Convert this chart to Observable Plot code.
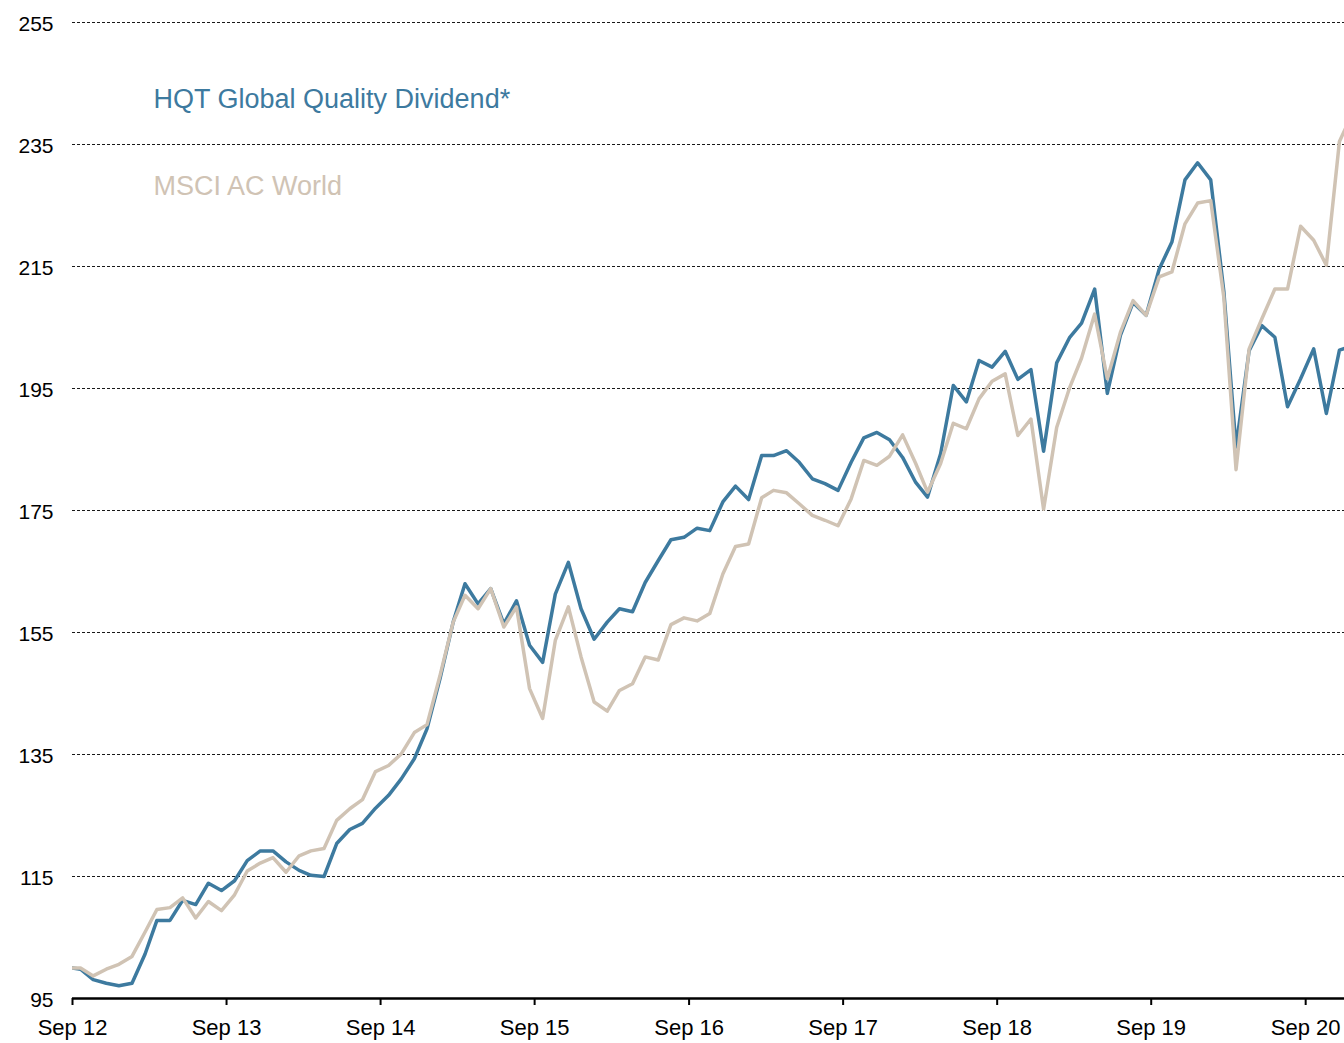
<!DOCTYPE html>
<html>
<head>
<meta charset="utf-8">
<script src="https://cdn.jsdelivr.net/npm/d3@7"></script>
<script src="https://cdn.jsdelivr.net/npm/@observablehq/plot@0.6"></script>
<style>
  html, body { margin: 0; padding: 0; background: #ffffff; }
  #chart { width: 1344px; height: 1043px; }
</style>
</head>
<body>
<div id="chart"></div>
<script>
// ---- data ----
const seriesNames = ["HQT Global Quality Dividend*", "MSCI AC World"];
const seriesColors = ["#3d7a9f", "#d0c3b4"];

const startDate = "2012-09-01";      // base point (index = 100)
const firstMonthly = "2012-09-20";   // first monthly observation
const domainEnd = "2020-12-02";

const hqt = [100.0,
  99.8, 98.1, 97.5, 97.1, 97.5, 102.3, 107.8, 107.8, 111.1, 110.4, 113.9, 112.7,
  114.3, 117.6, 119.2, 119.2, 117.4, 116.0, 115.2, 115.0, 120.4, 122.7, 123.7, 126.2,
  128.3, 131.0, 134.3, 139.2, 147.5, 156.7, 163.0, 159.7, 162.2, 156.4, 160.2, 152.9,
  150.1, 161.3, 166.5, 158.9, 153.9, 156.7, 158.9, 158.4, 163.2, 166.8, 170.2, 170.6,
  172.1, 171.7, 176.4, 179.0, 176.8, 184.0, 184.0, 184.8, 182.9, 180.2, 179.4, 178.3,
  182.9, 186.9, 187.8, 186.6, 183.7, 179.6, 177.2, 184.3, 195.5, 192.8, 199.6, 198.5,
  201.1, 196.5, 198.1, 184.7, 199.2, 203.4, 205.7, 211.3, 194.2, 203.7, 209.1, 207.0,
  214.6, 219.0, 229.2, 232.0, 229.2, 211.0, 185.4, 201.2, 205.3, 203.4, 192.0, 196.6,
  201.5, 190.9, 201.3, 202.0];

const msci = [100.0,
  100.0, 98.7, 99.8, 100.6, 101.9, 105.9, 109.6, 109.9, 111.5, 108.2, 110.9, 109.4,
  112.0, 115.9, 117.2, 118.1, 115.7, 118.4, 119.2, 119.6, 124.2, 126.1, 127.6, 132.2,
  133.2, 135.1, 138.6, 139.9, 148.0, 156.7, 161.1, 158.9, 162.2, 155.9, 159.2, 145.8,
  140.9, 153.7, 159.2, 151.0, 143.6, 142.1, 145.5, 146.6, 151.0, 150.5, 156.3, 157.4,
  156.9, 158.1, 164.6, 169.1, 169.5, 177.1, 178.3, 177.9, 176.1, 174.2, 173.4, 172.5,
  176.9, 183.2, 182.4, 183.9, 187.4, 182.7, 178.0, 182.7, 189.3, 188.4, 193.3, 196.2,
  197.4, 187.3, 190.0, 175.2, 188.6, 195.2, 200.0, 207.2, 196.6, 204.2, 209.4, 207.0,
  213.3, 214.1, 222.0, 225.4, 225.8, 210.0, 181.7, 201.5, 206.4, 211.3, 211.3, 221.6,
  219.3, 215.2, 235.5, 240.0];

const yTicks = [95, 115, 135, 155, 175, 195, 215, 235, 255];
const xTickLabels = ["Sep 12", "Sep 13", "Sep 14", "Sep 15", "Sep 16", "Sep 17", "Sep 18", "Sep 19", "Sep 20"];
const xTickYears = [2012, 2013, 2014, 2015, 2016, 2017, 2018, 2019, 2020];

// ---- build table ----
const first = new Date(firstMonthly);
const dates = [new Date(startDate), ...d3.range(hqt.length - 1).map(k => d3.utcMonth.offset(first, k))];
const rows = [];
[hqt, msci].forEach((vals, s) => {
  vals.forEach((v, i) => rows.push({date: dates[i], value: v, series: seriesNames[s]}));
});
const xTicks = xTickYears.map(y => new Date(Date.UTC(y, 8, 1)));

const font = "'Liberation Sans', Arial, Helvetica, sans-serif";

const chart = Plot.plot({
  width: 1344,
  height: 1043,
  marginLeft: 72,
  marginRight: 0,
  marginTop: 22,
  marginBottom: 45,
  style: {fontFamily: font, fontSize: "21px", background: "#ffffff", color: "#000000", overflow: "visible"},
  x: {type: "utc", domain: [new Date(startDate), new Date(domainEnd)], label: null},
  y: {domain: [95, 255], label: null},
  color: {domain: seriesNames, range: seriesColors},
  marks: [
    Plot.ruleY(yTicks.filter(v => v > 95), {stroke: "#000000", strokeWidth: 1, strokeDasharray: "3,2", strokeOpacity: 0.9}),
    Plot.axisY({ticks: yTicks, tickSize: 0, tickPadding: 19, tickFormat: d => String(d), fontSize: 21, dy: 2}),
    Plot.axisX({ticks: xTicks, tickSize: 7, tickPadding: 14, strokeWidth: 2, tickFormat: (d, i) => xTickLabels[i], fontSize: 22}),
    Plot.ruleY([95], {stroke: "#000000", strokeWidth: 2.5}),
    Plot.line(rows.filter(r => r.series === seriesNames[0]), {x: "date", y: "value", stroke: seriesColors[0], strokeWidth: 3.5, clip: true}),
    Plot.line(rows.filter(r => r.series === seriesNames[1]), {x: "date", y: "value", stroke: seriesColors[1], strokeWidth: 3.5, clip: true}),
    Plot.text([seriesNames[0]], {frameAnchor: "top-left", text: d => d, dx: 81, dy: 66, lineAnchor: "top", textAnchor: "start", fill: seriesColors[0], fontSize: 27}),
    Plot.text([seriesNames[1]], {frameAnchor: "top-left", text: d => d, dx: 81, dy: 153, lineAnchor: "top", textAnchor: "start", fill: seriesColors[1], fontSize: 27})
  ]
});
document.getElementById("chart").appendChild(chart);
</script>
</body>
</html>
